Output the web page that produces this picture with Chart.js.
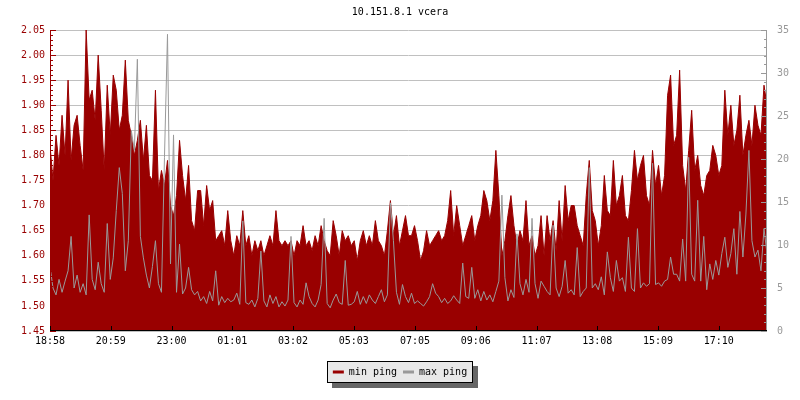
<!DOCTYPE html>
<html>
<head>
<meta charset="utf-8">
<title>10.151.8.1 vcera</title>
<script src="https://cdn.jsdelivr.net/npm/chart.js@4.4.1/dist/chart.umd.min.js"></script>
<style>
  body { margin: 0; background: #fff; }
  #pingChart { display: block; }
</style>
</head>
<body>
<canvas id="pingChart" width="800" height="400"></canvas>
<script>
// time axis labels, first sample is at 18:58
const timeLabels = ['18:58', '20:59', '23:00', '01:01', '03:02', '05:03', '07:05', '09:06', '11:07', '13:08', '15:09', '17:10'];
const stepMinutes = 6; // one sample every 6 min

const leftTicks = [1.45, 1.50, 1.55, 1.60, 1.65, 1.70, 1.75, 1.80, 1.85, 1.90, 1.95, 2.00, 2.05];
const rightTicks = [0, 5, 10, 15, 20, 25, 30, 35];

// min ping, left axis
const minPing = [
  1.82,1.75,1.84,1.78,1.88,1.80,1.95,1.79,1.86,1.88,1.82,1.77,2.05,1.91,1.93,1.87,2.00,1.89,1.77,1.94, // 18:58
  1.84,1.96,1.93,1.85,1.88,1.99,1.87,1.84,1.80,1.83,1.87,1.79,1.86,1.76,1.75,1.93,1.73,1.77,1.74,1.79, // 20:59
  1.70,1.68,1.72,1.83,1.76,1.71,1.78,1.67,1.65,1.73,1.73,1.66,1.74,1.69,1.71,1.63,1.64,1.65,1.62,1.69, // 23:00
  1.63,1.60,1.64,1.62,1.69,1.62,1.64,1.60,1.63,1.61,1.63,1.60,1.62,1.64,1.62,1.69,1.63,1.62,1.63,1.62, // 01:01
  1.63,1.60,1.63,1.62,1.66,1.62,1.63,1.61,1.64,1.62,1.66,1.63,1.61,1.60,1.67,1.64,1.60,1.65,1.63,1.64, // 03:02
  1.62,1.63,1.59,1.63,1.65,1.62,1.64,1.62,1.67,1.63,1.62,1.60,1.65,1.71,1.64,1.68,1.62,1.65,1.68,1.64, // 05:03
  1.64,1.66,1.63,1.59,1.61,1.65,1.62,1.63,1.64,1.65,1.63,1.64,1.67,1.73,1.64,1.70,1.66,1.62,1.64,1.66, // 07:05
  1.68,1.63,1.66,1.68,1.73,1.71,1.67,1.71,1.81,1.72,1.60,1.63,1.68,1.72,1.66,1.62,1.65,1.63,1.71,1.62, // 09:06
  1.64,1.60,1.62,1.68,1.60,1.68,1.63,1.67,1.61,1.71,1.63,1.74,1.67,1.70,1.70,1.66,1.64,1.62,1.72,1.79, // 11:07
  1.69,1.67,1.62,1.66,1.76,1.69,1.68,1.79,1.70,1.72,1.76,1.68,1.67,1.73,1.81,1.75,1.78,1.80,1.72,1.70, // 13:08
  1.81,1.74,1.78,1.72,1.76,1.92,1.96,1.82,1.84,1.97,1.78,1.73,1.81,1.89,1.77,1.80,1.74,1.72,1.76,1.77, // 15:09
  1.82,1.80,1.76,1.78,1.93,1.84,1.90,1.82,1.85,1.92,1.80,1.84,1.87,1.82,1.90,1.86,1.84,1.94,1.90       // 17:10
];

// max ping, right axis
const maxPing = [
  7.5,5.0,4.2,6.0,4.5,5.8,7.0,11.0,5.0,6.5,4.5,5.5,4.2,13.5,6.0,4.8,8.0,5.5,4.5,12.5,
  6.0,8.5,14.0,19.0,16.0,7.0,10.5,23.3,21.0,31.6,11.0,8.5,6.5,5.0,7.5,10.5,5.5,4.5,20.2,34.5,
  7.8,22.8,4.5,10.1,4.3,5.0,7.4,4.8,4.2,4.6,3.5,4.0,3.2,4.6,3.5,7.0,3.0,4.0,3.3,3.8,
  3.4,3.6,4.4,3.1,12.8,3.3,3.1,3.6,2.8,3.8,9.3,3.5,2.8,4.2,3.2,4.0,2.8,3.4,2.9,3.6,
  11.0,3.3,2.8,3.6,3.1,5.6,4.0,3.2,2.8,3.6,5.4,13.1,3.2,2.7,3.6,4.3,3.3,3.1,8.2,3.0,
  3.1,3.4,4.6,3.1,4.0,3.2,4.2,3.6,3.2,4.0,4.8,3.4,4.2,14.9,10.5,4.5,3.1,5.4,4.0,3.3,
  4.4,3.2,3.5,3.2,2.9,3.4,4.0,5.5,4.4,4.0,3.3,3.8,3.2,3.5,4.1,3.6,3.2,7.9,4.0,3.8,
  7.4,3.8,4.8,3.5,4.6,3.6,4.2,3.4,4.6,5.8,15.8,6.2,3.5,4.8,3.9,11.3,5.5,4.2,6.0,4.5,
  13.1,5.5,3.8,5.8,5.2,4.6,4.2,12.3,5.0,4.0,5.2,8.2,4.4,4.8,4.2,9.7,4.0,4.6,5.0,19.0,
  5.0,5.5,4.8,6.3,4.2,9.2,6.2,4.6,8.2,5.8,6.2,4.6,10.9,5.0,4.6,11.9,5.0,5.6,5.2,5.5,
  19.5,5.4,5.6,5.2,5.8,6.0,8.6,6.6,6.6,5.8,10.7,5.8,20.2,6.6,5.8,15.2,5.8,11.0,4.8,7.8,
  6.0,8.2,6.5,9.0,10.9,7.4,9.0,11.9,6.6,13.9,8.6,13.6,21.0,10.5,8.6,9.4,7.0,11.9,9.0
];

// minutes since first label for every time label
function toMinutes(label) {
  const p = label.split(':');
  return (+p[0]) * 60 + (+p[1]);
}
const startMin = toMinutes(timeLabels[0]);
const tickMinutes = timeLabels.map(l => (toMinutes(l) - startMin + 1440) % 1440);

const RED = '#990000';
const GREY = '#999999';

Chart.defaults.font.family = "'DejaVu Sans Mono', monospace";
Chart.defaults.font.size = 10;

// inward tick marks + axis lines drawn over the red area
const axisTicks = {
  id: 'axisTicks',
  afterDatasetsDraw(chart) {
    const ctx = chart.ctx;
    const a = chart.chartArea;
    const y = chart.scales.y, y1 = chart.scales.y1, x = chart.scales.x;
    ctx.save();
    ctx.lineWidth = 1;

    ctx.strokeStyle = RED;
    ctx.beginPath();
    for (let k = 0; k <= 60; k++) {
      const py = Math.round(y.getPixelForValue(y.min + k * 0.01)) + 0.5;
      ctx.moveTo(a.left, py);
      ctx.lineTo(a.left + (k % 5 === 0 ? 6 : 3), py);
    }
    ctx.moveTo(a.left + 0.5, a.top);
    ctx.lineTo(a.left + 0.5, a.bottom);
    ctx.stroke();

    ctx.strokeStyle = GREY;
    ctx.beginPath();
    for (let k = 0; k <= 35; k++) {
      const py = Math.round(y1.getPixelForValue(k)) + 0.5;
      ctx.moveTo(a.right, py);
      ctx.lineTo(a.right - (k % 5 === 0 ? 6 : 3), py);
    }
    ctx.moveTo(a.right - 0.5, a.top);
    ctx.lineTo(a.right - 0.5, a.bottom);
    ctx.stroke();

    ctx.strokeStyle = '#000';
    ctx.beginPath();
    tickMinutes.forEach(m => {
      const px = Math.round(x.getPixelForValue(m)) + 0.5;
      ctx.moveTo(px, a.bottom);
      ctx.lineTo(px, a.bottom - 5);
    });
    ctx.moveTo(a.left, a.bottom - 0.5);
    ctx.lineTo(a.right, a.bottom - 0.5);
    ctx.stroke();
    ctx.restore();
  }
};

// grey box with a shadow behind the legend
const legendBox = {
  id: 'legendBox',
  beforeDraw(chart) {
    const hb = chart.legend.legendHitBoxes;
    if (!hb || !hb.length) return;
    const last = hb[hb.length - 1];
    const left = Math.round(hb[0].left) - 6;
    const right = Math.round(last.left + last.width) + 6;
    const top = Math.round(hb[0].top) - 6;
    const bottom = Math.round(hb[0].top + hb[0].height) + 6;
    const ctx = chart.ctx;
    ctx.save();
    ctx.fillStyle = '#666666';
    ctx.fillRect(left + 5, top + 5, right - left, bottom - top);
    ctx.fillStyle = '#e8e8e8';
    ctx.fillRect(left, top, right - left, bottom - top);
    ctx.strokeStyle = '#000';
    ctx.lineWidth = 1;
    ctx.strokeRect(left + 0.5, top + 0.5, right - left - 1, bottom - top - 1);
    ctx.restore();
  }
};

const ctx = document.getElementById('pingChart').getContext('2d');
new Chart(ctx, {
  type: 'line',
  data: {
    datasets: [{
      label: 'min ping',
      data: minPing.map((v, i) => ({ x: i * stepMinutes, y: v })),
      yAxisID: 'y',
      borderColor: RED,
      backgroundColor: RED,
      borderWidth: 1,
      pointRadius: 0,
      fill: 'start',
      order: 2
    }, {
      label: 'max ping',
      data: maxPing.map((v, i) => ({ x: i * stepMinutes, y: v })),
      yAxisID: 'y1',
      borderColor: GREY,
      backgroundColor: GREY,
      borderWidth: 1,
      pointRadius: 0,
      fill: false,
      order: 1
    }]
  },
  options: {
    responsive: false,
    animation: false,
    devicePixelRatio: 1,
    layout: { padding: { bottom: 13 } },
    scales: {
      x: {
        type: 'linear',
        min: 0,
        max: (minPing.length - 1) * stepMinutes,
        grid: { display: false, drawTicks: false },
        border: { display: false },
        afterBuildTicks: s => { s.ticks = tickMinutes.map(v => ({ value: v })); },
        afterFit: s => { s.height = 30; },
        ticks: {
          color: '#000',
          padding: 4,
          maxRotation: 0,
          autoSkip: false,
          callback: v => timeLabels[tickMinutes.indexOf(v)]
        }
      },
      y: {
        position: 'left',
        min: 1.45,
        max: 2.05,
        grid: { color: '#c0c0c0', drawTicks: false },
        border: { display: false },
        afterBuildTicks: s => { s.ticks = leftTicks.map(v => ({ value: v })); },
        afterFit: s => { s.width = 50; },
        ticks: { color: RED, padding: 5, callback: v => v.toFixed(2) }
      },
      y1: {
        position: 'right',
        min: 0,
        max: 35,
        grid: { display: false, drawTicks: false },
        border: { display: false },
        afterBuildTicks: s => { s.ticks = rightTicks.map(v => ({ value: v })); },
        afterFit: s => { s.width = 33; },
        ticks: { color: GREY, padding: 10 }
      }
    },
    plugins: {
      title: {
        display: true,
        text: '10.151.8.1 vcera',
        color: '#000',
        font: { size: 10, weight: 'normal' },
        padding: { top: 6, bottom: 12 }
      },
      legend: {
        position: 'bottom',
        labels: {
          boxWidth: 11,
          boxHeight: 3,
          padding: 6,
          color: '#000',
          font: { size: 10 },
          generateLabels: () => [
            { text: 'min ping', fillStyle: RED, strokeStyle: RED, lineWidth: 0, datasetIndex: 0 },
            { text: 'max ping', fillStyle: GREY, strokeStyle: GREY, lineWidth: 0, datasetIndex: 1 }
          ]
        }
      },
      tooltip: { enabled: false }
    }
  },
  plugins: [axisTicks, legendBox]
});
</script>
</body>
</html>
